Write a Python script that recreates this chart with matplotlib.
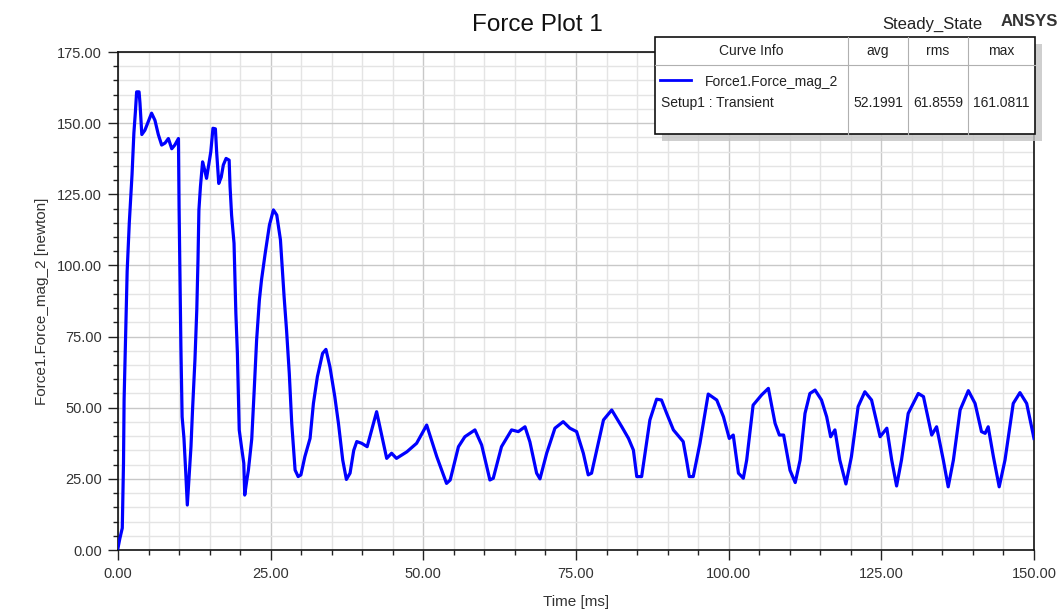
import matplotlib
matplotlib.use("Agg")
import matplotlib.pyplot as plt
from matplotlib.patches import Rectangle
from matplotlib.ticker import MultipleLocator, FormatStrFormatter

plt.rcParams['font.family'] = ['Liberation Sans', 'DejaVu Sans']

# ---- data ----
time_ms = [0.0, 0.3, 0.7, 0.9, 1.0, 1.25, 1.5, 1.85, 2.3, 2.6, 2.85, 3.05, 3.45, 3.6, 3.9,
           4.4, 5.5, 6.05, 6.6, 7.15, 7.7, 8.25, 8.8, 9.3, 9.9, 10.0, 10.15, 10.3, 10.5,
           10.8, 11.1, 11.35, 11.7, 11.95, 12.2, 12.6, 12.9, 13.1, 13.25, 13.5, 13.85,
           14.2, 14.5, 14.9, 15.2, 15.55, 15.95, 16.15, 16.5, 16.9, 17.25, 17.7, 18.2,
           18.35, 18.6, 19.0, 19.15, 19.3, 19.55, 19.7, 19.85, 20.25, 20.6, 20.75, 21.1,
           21.35, 21.9, 22.3, 22.7, 23.15, 23.5, 24.1, 24.8, 25.45, 26.0, 26.6, 27.2,
           27.6, 28.05, 28.45, 29.0, 29.5, 29.95, 30.6, 31.45, 32.0, 32.65, 33.5, 34.05,
           34.7, 35.5, 36.1, 36.8, 37.4, 38.0, 38.6, 39.1, 39.9, 40.8, 42.35, 44.0, 44.8,
           45.6, 47.3, 48.9, 50.55, 52.2, 53.8, 54.4, 55.75, 56.8, 58.45, 59.55, 60.9,
           61.45, 62.8, 64.45, 65.55, 66.65, 67.45, 68.55, 69.1, 70.2, 71.55, 72.9, 74.0,
           75.1, 76.2, 77.0, 77.55, 78.65, 79.5, 80.85, 82.5, 83.6, 84.4, 84.95, 85.75,
           87.1, 88.2, 89.0, 89.85, 90.95, 92.55, 93.1, 93.55, 94.2, 95.3, 96.65, 98.05,
           99.15, 100.1, 100.75, 101.6, 102.4, 102.95, 104.0, 105.4, 106.5, 107.6, 108.3,
           109.0, 110.05, 110.9, 111.7, 112.5, 113.3, 114.15, 115.2, 116.05, 116.7, 117.4,
           118.2, 119.2, 120.1, 121.2, 122.3, 123.4, 124.8, 125.9, 126.7, 127.5, 128.3,
           129.4, 131.05, 131.9, 133.25, 134.05, 135.15, 135.95, 136.8, 137.9, 139.25,
           140.35, 141.4, 142.0, 142.5, 143.35, 144.3, 145.25, 146.6, 147.7, 148.8, 150.0]
force_n = [0.7, 4, 7.7, 30.5, 53, 75.5, 98, 115, 132, 146.5, 154, 161, 161, 157, 146,
           147.5, 153.5, 151, 146, 142.3, 143, 144.6, 141, 142.3, 144.6, 120.6, 95.5, 71.4,
           46.8, 39.3, 27, 15.8, 27.5, 36.3, 49, 66.8, 84.3, 102, 119.5, 127.7, 136.4,
           133.5, 130.6, 136, 140, 148.2, 148, 140, 128.8, 131, 135.3, 137.6, 137,
           127.7, 117.7, 107.8, 96, 83.2, 69.2, 55.2, 42.2, 35.8, 30.5, 19.3, 24.6,
           28, 39, 56, 73.8, 87.8, 94.9, 104.2, 114.2, 119.5, 117.7, 109, 89,
           77.3, 62, 44.5, 28.1, 25.8, 26.4, 32.8, 39.2, 51.5, 60.9, 69.1, 70.5,
           64.4, 53.9, 44.5, 31.6, 24.8, 27, 35, 38.1, 37.5, 36.3, 48.6, 32.2, 34,
           32.2, 34.5, 37.5, 43.9, 32.8, 23.4, 24.6, 36.3, 39.8, 42.2, 36.9, 24.6,
           25.2, 36.3, 42.2, 41.6, 43.3, 38, 27, 25, 34, 42.8, 45.1, 42.8,
           41.6, 34, 26.4, 27, 37.5, 45.7, 49.2, 43.3, 39.2, 35.1, 25.8, 25.8,
           45.7, 53, 52.7, 48, 42.2, 38.1, 31.6, 25.8, 25.8, 37.5, 54.8, 52.7,
           46.8, 39.2, 40.4, 27, 25.2, 31.6, 50.9, 54.5, 56.8, 44.5, 40.4,
           40.4, 28, 23.7, 31.6, 48, 55, 56.2, 52.7, 46.8, 39.8, 42.2,
           31.6, 23.2, 32.8, 50.4, 55.6, 52.7, 39.8, 42.8, 31.6, 22.5, 31.6,
           48, 55, 53.9, 40.4, 43.3, 31.6, 22.2, 31.6, 49.2, 56,
           51.5, 41.6, 41, 43.3, 32.8, 22.2, 31.6, 51.5, 55.3, 51.5, 39.2]

title = "Force Plot 1"
x_label = "Time [ms]"
y_label = "Force1.Force_mag_2 [newton]"
curve_name = "Force1.Force_mag_2"
setup_name = "Setup1 : Transient"
stat_headers = ["avg", "rms", "max"]
stat_values = ["52.1991", "61.8559", "161.0811"]

W, H = 1064, 612
fig = plt.figure(figsize=(W / 100, H / 100), dpi=100)
ax = fig.add_axes([118 / W, 1 - 550 / H, (1034 - 118) / W, (550 - 52) / H])

ax.plot(time_ms, force_n, color='#0000ff', lw=2.3, zorder=3)
ax.set_xlim(0, 150)
ax.set_ylim(0, 175)

ax.xaxis.set_major_locator(MultipleLocator(25))
ax.xaxis.set_minor_locator(MultipleLocator(5))
ax.yaxis.set_major_locator(MultipleLocator(25))
ax.yaxis.set_minor_locator(MultipleLocator(5))
ax.xaxis.set_major_formatter(FormatStrFormatter('%.2f'))
ax.yaxis.set_major_formatter(FormatStrFormatter('%.2f'))

ax.grid(True, which='minor', color='#e4e4e4', lw=1.0, zorder=0)
ax.grid(True, which='major', color='#c8c8c8', lw=1.0, zorder=0)
ax.set_axisbelow(True)

ax.tick_params(which='major', direction='out', length=7.5, width=1.0, color='#222222',
               labelsize=10.5, labelcolor='#333333')
ax.tick_params(which='minor', direction='out', length=3.8, width=1.0, color='#222222')
ax.tick_params(axis='y', which='major', pad=4)
ax.tick_params(axis='x', which='major', pad=5)

for s in ax.spines.values():
    s.set_color('#111111')
    s.set_linewidth(1.2)

ax.set_xlabel(x_label, fontsize=11, color='#333333', labelpad=10)
ax.set_ylabel(y_label, fontsize=11, color='#333333', labelpad=6)

fig.text(537 / W, 1 - 25 / H, title, fontsize=17.5, ha='center', va='center', color='#111111')
fig.text(932 / W, 1 - 24 / H, "Steady_State", fontsize=12, ha='center', va='center', color='#222222')
fig.text(1029 / W, 1 - 21 / H, "ANSYS", fontsize=12, ha='center', va='center',
         color='#333333', fontweight='bold')

# ---- legend table overlay in pixel coords ----
ov = fig.add_axes([0, 0, 1, 1], zorder=10)
ov.set_xlim(0, W)
ov.set_ylim(H, 0)
ov.axis('off')

x0, x1, xa, xr, xm = 655, 1035, 848, 908, 968
y0, yh, y1 = 37, 65, 134
ov.add_patch(Rectangle((x0 + 7, y0 + 7), x1 - x0, y1 - y0, facecolor='#c4c4c4',
                       edgecolor='none', alpha=0.8))
ov.add_patch(Rectangle((x0, y0), x1 - x0, y1 - y0, facecolor='white',
                       edgecolor='#111111', lw=1.2))
ov.plot([x0, x1], [yh, yh], color='#b0b0b0', lw=0.8)
for xc in (xa, xr, xm):
    ov.plot([xc, xc], [y0, y1], color='#b0b0b0', lw=0.8)

fs = 10
ov.text((x0 + xa) / 2, (y0 + yh) / 2, "Curve Info", fontsize=fs, ha='center', va='center', color='#222222')
cols = [(xa + xr) / 2, (xr + xm) / 2, (xm + x1) / 2]
for cx, hdr, val in zip(cols, stat_headers, stat_values):
    ov.text(cx, (y0 + yh) / 2, hdr, fontsize=fs, ha='center', va='center', color='#222222')
    ov.text(cx, 103, val, fontsize=fs, ha='center', va='center', color='#222222')
ov.plot([660, 691], [80, 80], color='#0000ff', lw=2)
ov.text(705, 82, curve_name, fontsize=fs, ha='left', va='center', color='#222222')
ov.text(661, 103, setup_name, fontsize=fs, ha='left', va='center', color='#222222')

fig.savefig('out.png', dpi=100)
